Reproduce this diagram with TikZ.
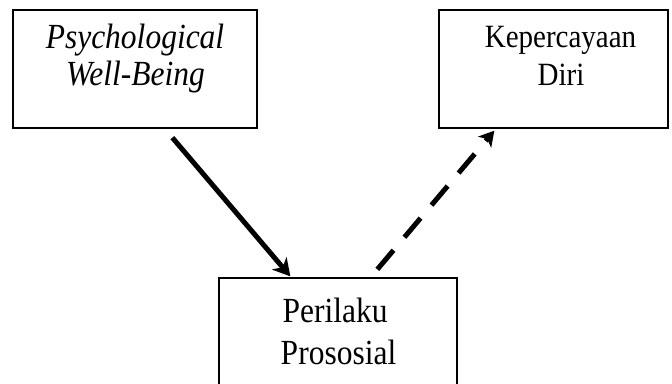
\documentclass[tikz,border=0pt]{standalone}
\usepackage{graphicx}
\usepackage{fontspec}
\setmainfont{Liberation Serif}
\usetikzlibrary{arrows.meta}
\newcommand{\tallt}[1]{\scalebox{1}[1.12]{#1}}
\begin{document}
\begin{tikzpicture}[x=1pt,y=-1pt,
  box/.style={draw=black,line width=1.3pt,inner sep=0pt,fill=white},
  txti/.style={inner sep=0pt,anchor=base,font=\fontsize{31.5}{37}\selectfont\itshape},
  txtk/.style={inner sep=0pt,anchor=base,font=\fontsize{29}{37}\selectfont},
  txtb/.style={inner sep=0pt,anchor=base,font=\fontsize{31.5}{42}\selectfont},
  conn/.style={line width=5pt,-{Stealth[length=17pt,width=19pt,inset=5pt]}},
  dconn/.style={line width=5pt,dash pattern=on 25pt off 17pt,-{Stealth[length=15pt,width=17pt,inset=4pt]}}]
\path[use as bounding box,clip] (0,0) rectangle (672,383);
\fill[white] (0,0) rectangle (672,383);
% boxes
\node[box,minimum width=244pt,minimum height=118pt] (pwb) at (135,69) {};
\node[box,minimum width=229pt,minimum height=118pt] (kd) at (553.5,69) {};
\node[box,minimum width=238pt,minimum height=160pt] (pp) at (338,358) {};
% texts
\node[txti] (pwb1) at (135,48) {\tallt{Psychological}};
\node[txti] (pwb2) at (135.5,85) {\tallt{Well-Being}};
\node[txtk] (kd1) at (560.5,47) {\tallt{Kepercayaan}};
\node[txtk] (kd2) at (561,85) {\tallt{Diri}};
\node[txtb] (pp1) at (335,322) {\tallt{Perilaku}};
\node[txtb] (pp2) at (338.5,364) {\tallt{Prososial}};
% connectors
\draw[conn] ([xshift=160pt,yshift=-9pt]pwb.south west) -- ([xshift=72pt,yshift=1pt]pp.north west);
\draw[dconn] ([xshift=159pt,yshift=8pt]pp.north west) -- ([xshift=56pt,yshift=-2pt]kd.south west);
\end{tikzpicture}
\end{document}
